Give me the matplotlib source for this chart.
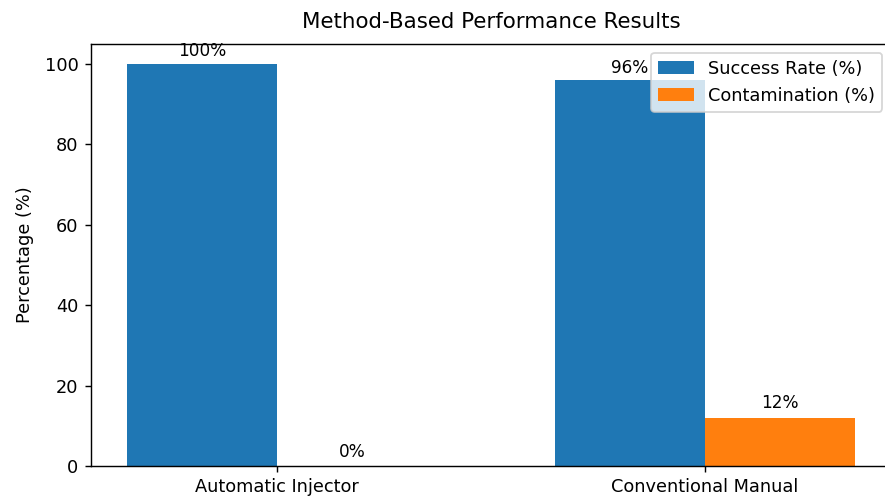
import matplotlib
matplotlib.use("Agg")
import matplotlib.pyplot as plt
import numpy as np

methods = ["Automatic Injector", "Conventional Manual"]
success_rate = [100, 96]
contamination = [0, 12]

DPI = 128
fig = plt.figure(figsize=(885 / DPI, 496 / DPI), dpi=DPI)
ax = fig.add_axes([0.1028, 0.0605, 0.904, 0.851])

x = np.arange(len(methods))
width = 0.35

b1 = ax.bar(x - width / 2, success_rate, width, label="Success Rate (%)", color="#1f77b4")
b2 = ax.bar(x + width / 2, contamination, width, label="Contamination (%)", color="#ff7f0e")

ax.bar_label(b1, labels=[f"{v}%" for v in success_rate], padding=2, fontsize=9.5)
ax.bar_label(b2, labels=[f"{v}%" for v in contamination], padding=3, fontsize=9.5)

ax.set_xticks(x)
ax.set_xticklabels(methods)
ax.set_ylabel("Percentage (%)", labelpad=6)
ax.set_title("Method-Based Performance Results", pad=9)
ax.legend(loc="upper right")

fig.savefig("out.png", dpi=DPI)
